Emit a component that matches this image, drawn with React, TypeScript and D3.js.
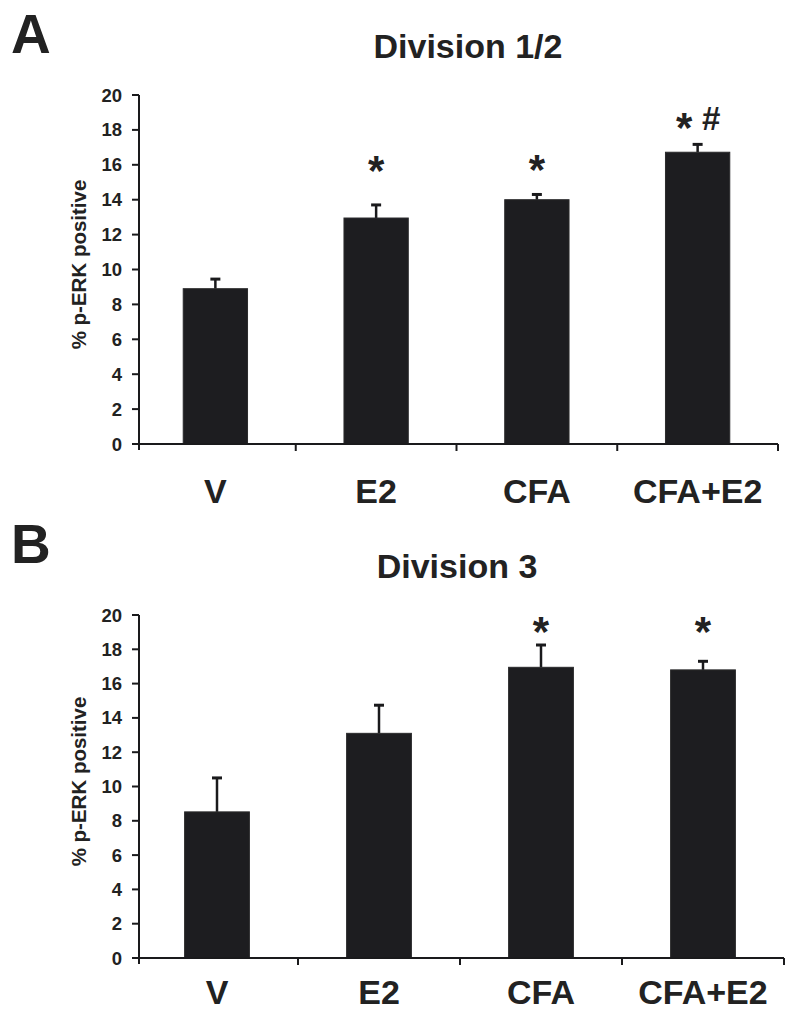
import React from "react";
import * as d3 from "d3";

const categories = ["V", "E2", "CFA", "CFA+E2"];
const yTicks = [0, 2, 4, 6, 8, 10, 12, 14, 16, 18, 20];

const meansA = [8.9, 12.95, 14.0, 16.72];
const errorsA = [0.55, 0.75, 0.3, 0.45];
const marksA = ["", "*", "*", "*#"];
const markLevelsA = [0, 16.2, 16.25, 18.7];

const meansB = [8.52, 13.1, 16.95, 16.8];
const errorsB = [1.98, 1.64, 1.3, 0.5];
const marksB = ["", "", "*", "*"];
const markLevelsB = [0, 0, 19.6, 19.6];

const FONT = "'Liberation Sans', Arial, Helvetica, sans-serif";
const INK = "#1a1a1c";

type PanelProps = {
  letter: string;
  letterBaseline: number;
  title: string;
  titleX: number;
  titleBaseline: number;
  means: number[];
  errors: number[];
  marks: string[];
  markLevels: number[];
  yTop: number;
  yZero: number;
  xStart: number;
  xEnd: number;
  bandStart: number;
  labelBaseline: number;
};

function Panel(p: PanelProps) {
  const y = d3.scaleLinear().domain([0, 20]).range([p.yZero, p.yTop]);
  const x = d3.scaleBand<string>().domain(categories).range([p.bandStart, p.xEnd]).padding(0);
  const bw = x.step() * 0.4;
  const axisX = p.xStart;
  const yMid = (p.yTop + p.yZero) / 2 - 5;
  return (
    <g>
      <text x={11} y={p.letterBaseline} fontFamily={FONT} fontWeight="bold" fontSize={55} fill="#222">
        {p.letter}
      </text>
      <text x={p.titleX} y={p.titleBaseline} textAnchor="middle" fontFamily={FONT} fontWeight="bold" fontSize={34} fill="#222">
        {p.title}
      </text>
      {/* y label */}
      <text
        transform={`translate(86,${yMid}) rotate(-90)`}
        textAnchor="middle"
        fontFamily={FONT}
        fontWeight="bold"
        fontSize={20.5}
        fill="#222"
      >
        % p-ERK positive
      </text>
      {/* bars */}
      {categories.map((c, i) => {
        const cx = (x(c) as number) + x.bandwidth() / 2;
        return (
          <g key={c}>
            <line x1={cx} x2={cx} y1={y(p.means[i])} y2={y(p.means[i] + p.errors[i])} stroke={INK} strokeWidth={2.5} />
            <line x1={cx - 5} x2={cx + 5} y1={y(p.means[i] + p.errors[i])} y2={y(p.means[i] + p.errors[i])} stroke={INK} strokeWidth={3} />
            <rect x={cx - bw / 2} y={y(p.means[i])} width={bw} height={y(0) - y(p.means[i])} fill="#1d1d20" stroke="#2a2a2c" strokeWidth={1} />
          </g>
        );
      })}
      {/* significance marks */}
      {categories.map((c, i) => {
        const m = p.marks[i];
        if (!m) return null;
        const cx = (x(c) as number) + x.bandwidth() / 2;
        const yc = y(p.markLevels[i]);
        const chars = m.split("");
        const spacing = 27;
        const start = cx - ((chars.length - 1) * spacing) / 2;
        return (
          <g key={"m" + c}>
            {chars.map((ch, j) =>
              ch === "*" ? (
                <text key={j} x={start + j * spacing} y={yc + 24} textAnchor="middle" fontFamily={FONT} fontWeight="bold" fontSize={42} fill="#222">
                  *
                </text>
              ) : (
                <text key={j} x={start + j * spacing} y={yc + 12} textAnchor="middle" fontFamily={FONT} fontWeight="bold" fontSize={33} fill="#222">
                  {ch}
                </text>
              )
            )}
          </g>
        );
      })}
      {/* y axis */}
      <line x1={axisX} x2={axisX} y1={p.yTop} y2={p.yZero + 6} stroke={INK} strokeWidth={2} />
      {yTicks.map((t) => (
        <g key={t}>
          <line x1={axisX - 7} x2={axisX} y1={y(t)} y2={y(t)} stroke={INK} strokeWidth={2} />
          <text x={axisX - 17} y={y(t) + 6.5} textAnchor="end" fontFamily={FONT} fontWeight="bold" fontSize={18.5} fill="#222">
            {t}
          </text>
        </g>
      ))}
      {/* x axis */}
      <line x1={axisX} x2={p.xEnd} y1={p.yZero} y2={p.yZero} stroke={INK} strokeWidth={2} />
      {categories.map((c) => {
        const bx = (x(c) as number) + x.step();
        return <line key={"t" + c} x1={bx} x2={bx} y1={p.yZero} y2={p.yZero + 7} stroke={INK} strokeWidth={2} />;
      })}
      {categories.map((c) => {
        const cx = (x(c) as number) + x.bandwidth() / 2;
        return (
          <text key={"l" + c} x={cx} y={p.labelBaseline} textAnchor="middle" fontFamily={FONT} fontWeight="bold" fontSize={34} fill="#222">
            {c}
          </text>
        );
      })}
    </g>
  );
}

export default function App() {
  return (
    <svg width={800} height={1012} style={{ position: "absolute", left: 0, top: 0, background: "#fff" }}>
      <rect width={800} height={1012} fill="#fff" />
      <Panel
        letter="A"
        letterBaseline={53}
        title="Division 1/2"
        titleX={468}
        titleBaseline={58}
        means={meansA}
        errors={errorsA}
        marks={marksA}
        markLevels={markLevelsA}
        yTop={95}
        yZero={444}
        xStart={139}
        xEnd={778}
        bandStart={135}
        labelBaseline={503}
      />
      <Panel
        letter="B"
        letterBaseline={563}
        title="Division 3"
        titleX={457}
        titleBaseline={578}
        means={meansB}
        errors={errorsB}
        marks={marksB}
        markLevels={markLevelsB}
        yTop={615}
        yZero={958}
        xStart={139}
        xEnd={784}
        bandStart={136}
        labelBaseline={1004}
      />
    </svg>
  );
}
